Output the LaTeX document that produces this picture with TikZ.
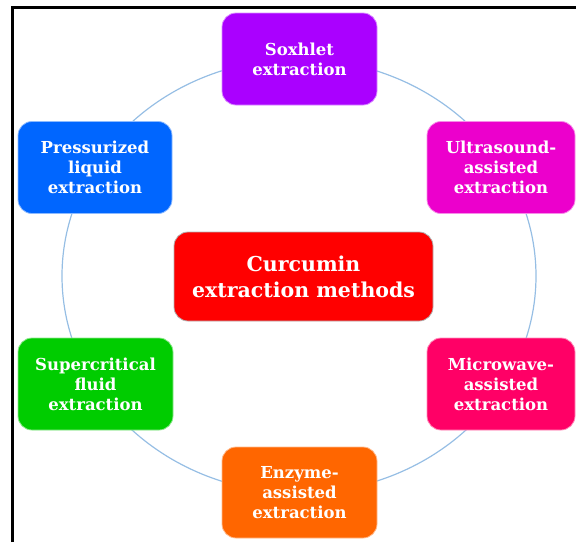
\documentclass[tikz,border=0pt]{standalone}
\usepackage{fontspec}
\setmainfont{DejaVu Serif}
\definecolor{cpurple}{RGB}{170,0,255}
\definecolor{cmagenta}{RGB}{236,0,204}
\definecolor{cpink}{RGB}{255,0,102}
\definecolor{corange}{RGB}{255,102,0}
\definecolor{cgreen}{RGB}{0,204,0}
\definecolor{cblue}{RGB}{0,102,255}
\definecolor{cred}{RGB}{255,0,0}
\definecolor{ringblue}{RGB}{150,190,228}
\tikzset{
  method/.style={rounded corners=14pt, fill=#1, draw=#1!45!white, line width=0.8pt,
    align=center, text=white, font=\bfseries\fontsize{16.5}{20}\selectfont,
    minimum width=155pt, minimum height=92pt, inner sep=0pt},
  hub/.style={rounded corners=14pt, fill=cred, draw=gray!60, line width=0.8pt,
    align=center, text=white, font=\bfseries\fontsize{20.5}{26}\selectfont,
    minimum width=259pt, minimum height=89pt, inner sep=0pt}
}
\begin{document}
\begin{tikzpicture}[x=1pt,y=-1pt]
\useasboundingbox (0,0) rectangle (576,542);
\draw[ringblue, line width=1.2pt] (299,276) ellipse [x radius=237pt, y radius=217pt];
\node[method=cpurple] (sox) at (299.5,59) {Soxhlet\\extraction};
\node[method=cmagenta, minimum width=148pt] (ultra) at (501,167.5) {Ultrasound-\\assisted\\extraction};
\node[method=cblue, minimum width=154pt] (press) at (95,167.5) {Pressurized\\liquid\\extraction};
\node[hub] (hubnode) at (303.5,276.5) {Curcumin\\extraction methods};
\node[method=cgreen] (super) at (95.5,384) {Supercritical\\fluid\\extraction};
\node[method=cpink, minimum width=148pt] (micro) at (501,384) {Microwave-\\assisted\\extraction};
\node[method=corange, minimum height=91pt] (enzyme) at (299.5,492.5) {Enzyme-\\assisted\\extraction};
\draw[black, line width=3pt] (12,542) -- (12,7.5) -- (576,7.5);
\end{tikzpicture}
\end{document}
